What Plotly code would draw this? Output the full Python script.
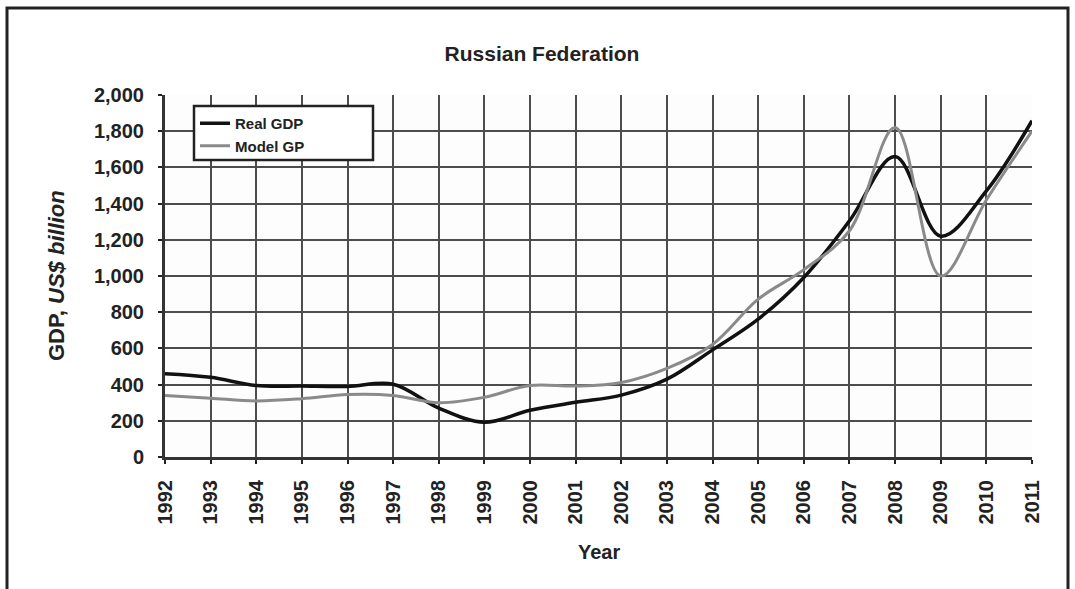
import plotly.graph_objects as go

# Annual GDP of the Russian Federation, US$ billion
years = list(range(1992, 2012))
real_gdp = [460, 440, 395, 392, 390, 402, 270, 192, 258, 302, 342, 430, 592, 762, 992,
            1305, 1660, 1220, 1470, 1858]
model_gp = [340, 325, 310, 322, 345, 340, 300, 330, 395, 392, 412, 490, 622, 872, 1035,
            1250, 1820, 1000, 1420, 1800]

title_text = "Russian Federation"
x_title = "Year"
y_title = "GDP, <i>US$ billion</i>"

W, H = 1075, 589
L, R, T, B = 165, 1032, 95, 457  # plot area in pixels


def px_x(px):
    return (px - L) / (R - L)


def px_y(py):
    return (B - py) / (B - T)


FONT = "Liberation Sans, Arial, sans-serif"

fig = go.Figure()
fig.add_trace(go.Scatter(
    x=years, y=real_gdp, name="Real GDP", mode="lines",
    line=dict(color="#111111", width=3.5, shape="spline", smoothing=1.0),
))
fig.add_trace(go.Scatter(
    x=years, y=model_gp, name="Model GP", mode="lines",
    line=dict(color="#8a8a8a", width=3, shape="spline", smoothing=1.0),
))

fig.update_layout(
    width=W, height=H,
    margin=dict(l=L, r=W - R, t=T, b=H - B),
    paper_bgcolor="white",
    plot_bgcolor="#fdfdfd",
    font=dict(family=FONT, color="#222222"),
    title=dict(text=title_text, x=542 / W, xanchor="center", xref="container",
               y=1 - 54 / H, yanchor="middle", yref="container",
               font=dict(size=21, weight=700, color="#222222")),
    showlegend=True,
    legend=dict(
        x=px_x(195), y=px_y(107), xanchor="left", yanchor="top",
        bgcolor="rgba(0,0,0,0)", borderwidth=0,
        font=dict(size=15, weight=700, color="#222222"),
        itemwidth=30, tracegroupgap=0,
    ),
)

fig.update_xaxes(
    range=[1992, 2011], tickmode="linear", tick0=1992, dtick=1,
    tickangle=-90, tickfont=dict(size=20, weight=700, color="#222222"),
    showgrid=True, gridcolor="#4d4d4d", gridwidth=2,
    showline=True, linecolor="#333333", linewidth=3,
    ticks="outside", ticklen=4, tickwidth=2, tickcolor="#222222",
    ticklabelstandoff=8, zeroline=False,
)
fig.update_yaxes(
    range=[0, 2000], tickmode="linear", tick0=0, dtick=200,
    tickformat=",d", tickfont=dict(size=20, weight=700, color="#222222"),
    showgrid=True, gridcolor="#4d4d4d", gridwidth=2,
    showline=True, linecolor="#333333", linewidth=3,
    ticks="outside", ticklen=4, tickwidth=2, tickcolor="#222222",
    ticklabelstandoff=10, zeroline=False,
)

# Axis titles
fig.add_annotation(text=x_title, xref="paper", yref="paper", x=0.5, y=px_y(552),
                   showarrow=False, xanchor="center", yanchor="middle",
                   font=dict(size=20, weight=700, color="#222222"))
fig.add_annotation(text=y_title, xref="paper", yref="paper", x=px_x(56), y=0.5,
                   showarrow=False, textangle=-90, xanchor="center", yanchor="middle",
                   font=dict(size=22, weight=700, color="#222222"))

# Legend box
fig.add_shape(type="rect", xref="paper", yref="paper",
              x0=px_x(194), x1=px_x(373), y0=px_y(160), y1=px_y(106),
              line=dict(color="#222222", width=2.5), fillcolor="white", layer="above")

# Outer frame
fig.add_shape(type="rect", xref="paper", yref="paper",
              x0=px_x(7), x1=px_x(1068), y0=px_y(620), y1=px_y(8),
              line=dict(color="#222222", width=3), fillcolor="rgba(0,0,0,0)", layer="above")

fig.write_html("out.html")
